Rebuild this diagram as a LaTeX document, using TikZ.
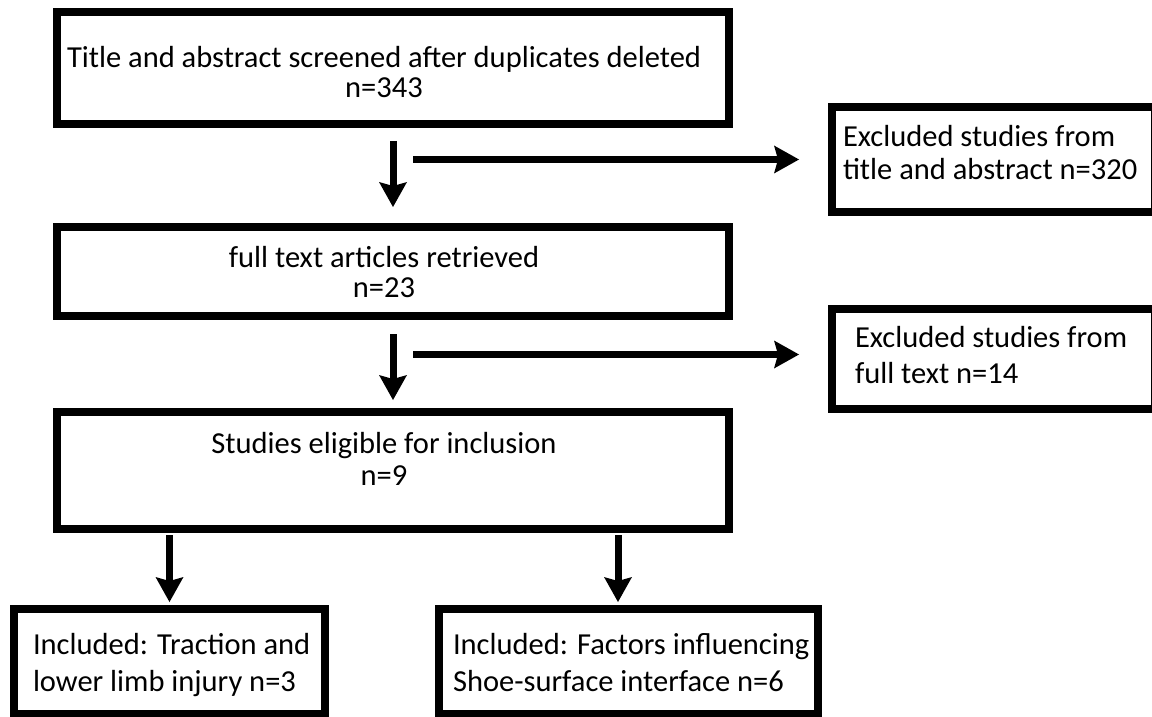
\documentclass[tikz,border=0pt]{standalone}
\usepackage{fontspec}
\setmainfont{Carlito}
\usetikzlibrary{arrows.meta,calc}
\newcommand{\ctrlines}[3]{\vtop{\baselineskip=#1\lineskiplimit=-\maxdimen\halign{\hfil##\hfil\cr#2\cr#3\cr}}}
\newcommand{\lftlines}[3]{\vtop{\baselineskip=#1\lineskiplimit=-\maxdimen\halign{##\hfil\cr#2\cr#3\cr}}}
\begin{document}
\begin{tikzpicture}[x=0.5pt,y=-0.5pt,
  box/.style={draw=black,line width=3.75pt,inner sep=0pt,outer sep=0pt,fill=white},
  txt/.style={inner sep=0pt,outer sep=0pt,font=\fontsize{15.25}{18}\selectfont},
  arr/.style={line width=3.5pt,line cap=butt,-{Stealth[length=12.5pt,width=14pt,inset=2pt,line width=0pt]}}]
\useasboundingbox (0,0) rectangle (1152,717);
\clip (0,0) rectangle (1152,717);
\fill[white] (0,0) rectangle (1152,717);
% boxes
\node[box,minimum width=336pt,minimum height=56pt] (b1) at (393,68) {};
\node[box,minimum width=336pt,minimum height=44.5pt] (b2) at (393,271.5) {};
\node[box,minimum width=336pt,minimum height=58.5pt] (b3) at (393,470.5) {};
\node[box,minimum width=161.5pt,minimum height=52.5pt] (e1) at (993.5,159.5) {};
\node[box,minimum width=161.5pt,minimum height=50pt] (e2) at (993.5,359) {};
\node[box,minimum width=155.5pt,minimum height=52.5pt] (c1) at (169.5,661.5) {};
\node[box,minimum width=189.5pt,minimum height=52.5pt] (c2) at (628.5,661.5) {};
% texts
\node[txt,anchor=base] (t1) at (384,68) {\ctrlines{15pt}{Title and abstract screened after duplicates deleted}{n=343}};
\node[txt,anchor=base] (t2) at (384,267) {\ctrlines{15pt}{full text articles retrieved}{n=23}};
\node[txt,anchor=base] (t3) at (384,453) {\ctrlines{16pt}{Studies eligible for inclusion}{n=9}};
\node[txt,anchor=base west] (te1) at (843,147) {\lftlines{16.5pt}{Excluded studies from}{title and abstract n=320}};
\node[txt,anchor=base west] (te2) at (855,347) {\lftlines{18pt}{Excluded studies from}{full text n=14}};
\node[txt,anchor=base west] (tc1) at (33,654) {\lftlines{18.5pt}{Included: Traction and}{lower limb injury n=3}};
\node[txt,anchor=base west] (tc2) at (453,654) {\lftlines{18.5pt}{Included: Factors influencing}{Shoe-surface interface n=6}};
% arrows
\draw[arr] ([yshift=-8.5pt]b1.south) -- ([yshift=10pt]b2.north);
\draw[arr] ($(b1.south |- e1.west)+(20,0)$) -- ($(e1.west)+(-33,0)$);
\draw[arr] ([yshift=-9pt]b2.south) -- ([yshift=6pt]b3.north);
\draw[arr] ($(e2.west -| b2.south)+(20,-4.5)$) -- ($(e2.west)+(-33,-4.5)$);
\draw[arr] ($(c1.north |- b3.south)+(0,6)$) -- ([yshift=3.5pt]c1.north);
\draw[arr] ($(c2.north |- b3.south)+(-10.5,6)$) -- ($(c2.north)+(-10.5,-7)$);
\end{tikzpicture}
\end{document}
